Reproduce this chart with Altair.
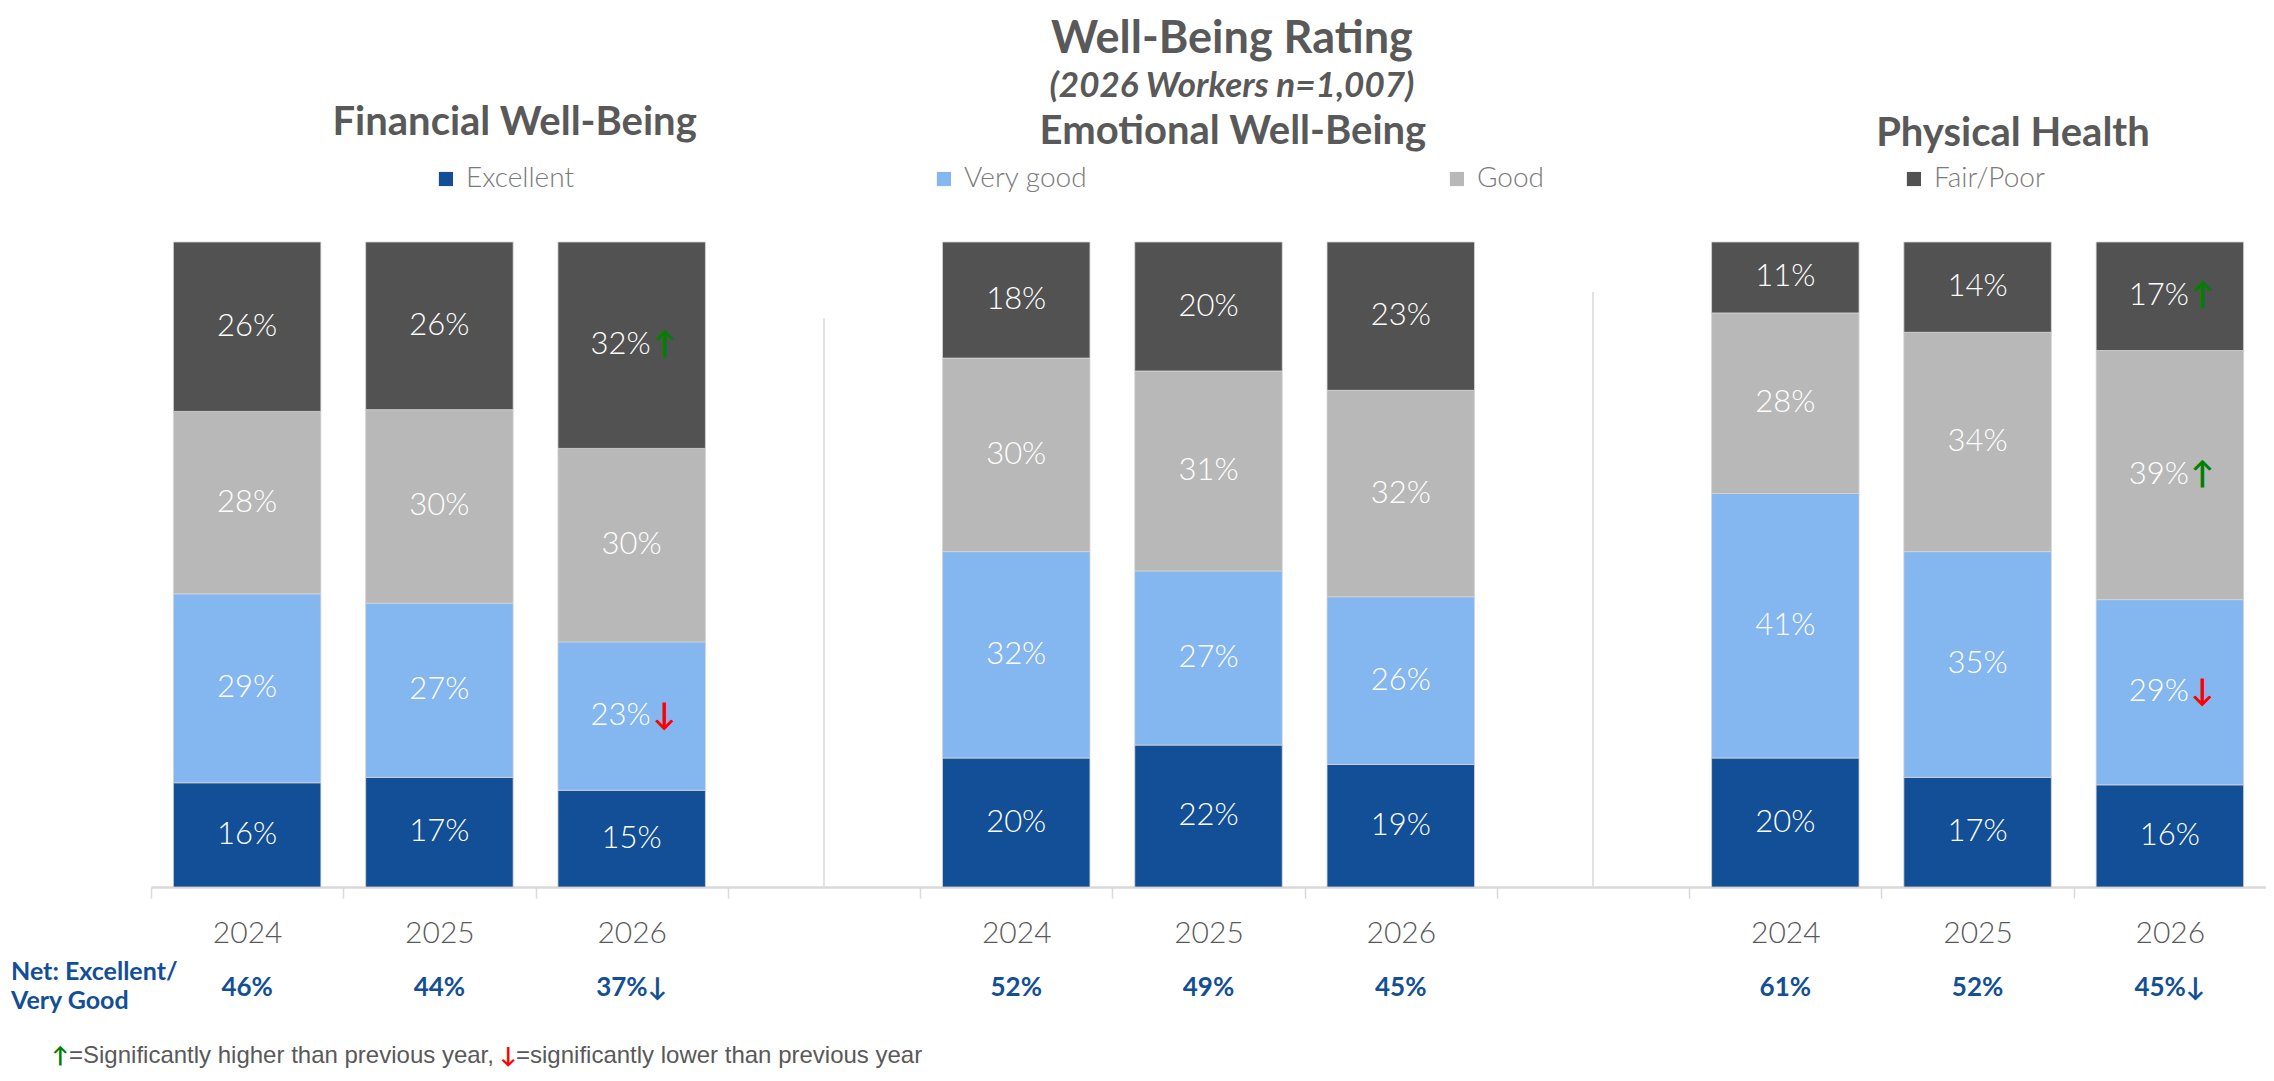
import altair as alt
import pandas as pd

# ---------------- data ----------------
years = ["2024", "2025", "2026"]
panels = ["Financial Well-Being", "Emotional Well-Being", "Physical Health"]
panel_keys = ["F", "E", "P"]
categories = ["Excellent", "Very good", "Good", "Fair/Poor"]
colors = ["#124f96", "#84b6ef", "#b8b8b8", "#525252"]

# order: Financial 2024-2026, Emotional 2024-2026, Physical 2024-2026
excellent = [16, 17, 15, 20, 22, 19, 20, 17, 16]
very_good = [29, 27, 23, 32, 27, 26, 41, 35, 29]
good = [28, 30, 30, 30, 31, 32, 28, 34, 39]
fair_poor = [26, 26, 32, 18, 20, 23, 11, 14, 17]

sig_excellent = ["", "", "", "", "", "", "", "", ""]
sig_very_good = ["", "", "down", "", "", "", "", "", "down"]
sig_good = ["", "", "", "", "", "", "", "", "up"]
sig_fair_poor = ["", "", "up", "", "", "", "", "", "up"]

net_values = [46, 44, 37, 52, 49, 45, 61, 52, 45]
net_sig = ["", "", "down", "", "", "", "", "", "down"]

title_text = "Well-Being Rating"
subtitle_text = "(2026 Workers n=1,007)"
net_label_1 = "Net: Excellent/"
net_label_2 = "Very Good"
foot_1 = "=Significantly higher than previous year, "
foot_2 = "=significantly lower than previous year"

# ---------------- build tables ----------------
slots = []
for k, key in enumerate(panel_keys):
    for y in years:
        slots.append(f"{key}|{y}")
    if k < 2:
        slots.append(f"gap{k + 1}")

series = [excellent, very_good, good, fair_poor]
sigs = [sig_excellent, sig_very_good, sig_good, sig_fair_poor]
rows = []
for i in range(9):
    slot = f"{panel_keys[i // 3]}|{years[i % 3]}"
    for c, cat in enumerate(categories):
        rows.append({
            "slot": slot,
            "cat": cat,
            "rank": c,
            "val": series[c][i],
            "label": f"{series[c][i]}%",
            "sig": sigs[c][i],
        })
df = pd.DataFrame(rows)

net_rows = []
for i in range(9):
    arrow = "\u2193" if net_sig[i] == "down" else ("\u2191" if net_sig[i] == "up" else "")
    net_rows.append({"slot": f"{panel_keys[i // 3]}|{years[i % 3]}",
                     "text": f"{net_values[i]}%{arrow}"})
net_df = pd.DataFrame(net_rows)

# ---------------- layout ----------------
W, H = 2115, 645
PAD = {"left": 143, "top": 234, "right": 0, "bottom": 181}
step = W / 11.0


def px(ref_x):
    return (ref_x - 153) * step / 193.0


GRAY = "#595959"
BLUE = "#134f97"

xscale = alt.Scale(domain=slots, paddingInner=0.233, paddingOuter=0.1165)
yscale = alt.Scale(domain=[0, 1], nice=False, zero=True)

x_enc = alt.X(
    "slot:N",
    scale=xscale,
    title=None,
    axis=alt.Axis(
        labelExpr="indexof(datum.value, '|') > 0 ? split(datum.value, '|')[1] : ''",
        labelAngle=0,
        labelFont="Lato",
        labelFontSize=30,
        labelFontWeight=300,
        labelColor=GRAY,
        labelPadding=20,
        domainColor="#d9d9d9",
        domainWidth=2.5,
        tickColor="#d9d9d9",
        tickWidth=1.5,
        tickSize=11,
        tickOffset=-step / 2,
        labelOffset=step / 2,
        grid=False,
    ),
)
x_plain = alt.X("slot:N", scale=xscale)

base = alt.Chart(df).transform_stack(
    stack="val",
    groupby=["slot"],
    as_=["y0", "y1"],
    offset="normalize",
    sort=[alt.SortField("rank", order="ascending")],
).transform_calculate(mid="(datum.y0 + datum.y1) / 2")

bars = base.mark_bar(stroke="#d4d4d4", strokeWidth=0.8).encode(
    x=x_enc,
    y=alt.Y("y0:Q", scale=yscale, axis=None),
    y2="y1:Q",
    color=alt.Color(
        "cat:N",
        scale=alt.Scale(domain=categories, range=colors),
        legend=alt.Legend(
            title=None,
            orient="none",
            legendX=px(435),
            legendY=-77,
            direction="horizontal",
            columnPadding=355,
            symbolType="square",
            symbolSize=200,
            symbolStrokeWidth=0,
            labelFont="Lato",
            labelFontSize=28,
            labelFontWeight=300,
            labelColor="#7a7a7a",
            labelOffset=6,
        ),
    ),
)

lbl_style = dict(font="Lato", fontSize=31, fontWeight=300, color="white", baseline="middle")
y_mid = alt.Y("mid:Q", scale=yscale, axis=None)

labels_plain = base.transform_filter("datum.sig == ''").mark_text(**lbl_style).encode(
    x=x_plain, y=y_mid, text="label:N"
)
labels_sig = base.transform_filter("datum.sig != ''").mark_text(
    align="right", dx=19, **lbl_style
).encode(x=x_plain, y=y_mid, text="label:N")

arrow_style = dict(font="Lato", fontSize=31, fontWeight="bold", baseline="middle", align="left", dx=21)
arrows_up = base.transform_filter("datum.sig == 'up'").mark_text(color="#008000", text="\u2191", **arrow_style).encode(
    x=x_plain, y=y_mid
)
arrows_down = base.transform_filter("datum.sig == 'down'").mark_text(color="#ff0000", text="\u2193", **arrow_style).encode(
    x=x_plain, y=y_mid
)

# dividers between panels
dividers = []
for gap, top in [("gap1", H - 569), ("gap2", H - 595)]:
    dividers.append(
        alt.Chart(pd.DataFrame({"slot": [gap]})).mark_rule(color="#e2e2e2", strokeWidth=2).encode(
            x=x_plain, y=alt.value(top), y2=alt.value(H)
        )
    )

# net row
net = alt.Chart(net_df).mark_text(
    font="Lato", fontSize=26, fontWeight="bold", color=BLUE, baseline="middle"
).encode(x=x_plain, y=alt.value(H + 101), text="text:N")


def text_layer(txt, x, y, **kw):
    return alt.Chart(pd.DataFrame({"t": [txt]})).mark_text(**kw).encode(
        x=alt.value(x), y=alt.value(y), text="t:N"
    )


annots = [
    text_layer(title_text, px(1238), -189, font="Lato", fontSize=45, fontWeight="bold",
               color=GRAY, align="center", baseline="alphabetic"),
    text_layer(subtitle_text, px(1238), -145, font="Lato", fontSize=35, fontWeight="bold",
               fontStyle="italic", color=GRAY, align="center", baseline="alphabetic"),
    text_layer(panels[0], px(518), -107, font="Lato", fontSize=40, fontWeight="bold",
               color=GRAY, align="center", baseline="alphabetic"),
    text_layer(panels[1], px(1239), -98, font="Lato", fontSize=40, fontWeight="bold",
               color=GRAY, align="center", baseline="alphabetic"),
    text_layer(panels[2], px(2022), -96, font="Lato", fontSize=40, fontWeight="bold",
               color=GRAY, align="center", baseline="alphabetic"),
    text_layer(net_label_1, 11 - 151, H + 93, font="Lato", fontSize=25, fontWeight="bold",
               color=BLUE, align="left", baseline="alphabetic"),
    text_layer(net_label_2, 11 - 151, H + 122, font="Lato", fontSize=25, fontWeight="bold",
               color=BLUE, align="left", baseline="alphabetic"),
    text_layer("\u2191", 52 - 151, H + 176, font="Lato", fontSize=22, fontWeight="bold",
               color="#008000", align="left", baseline="alphabetic"),
    text_layer(foot_1, 69 - 151, H + 176, font="Liberation Sans", fontSize=24,
               color=GRAY, align="left", baseline="alphabetic"),
    text_layer("\u2193", 500 - 151, H + 176, font="Lato", fontSize=22, fontWeight="bold",
               color="#ff0000", align="left", baseline="alphabetic"),
    text_layer(foot_2, 516 - 151, H + 176, font="Liberation Sans", fontSize=24,
               color=GRAY, align="left", baseline="alphabetic"),
]

chart = alt.layer(
    bars, *dividers, labels_plain, labels_sig, arrows_up, arrows_down, net, *annots
).properties(
    width=W,
    height=H,
    autosize=alt.AutoSizeParams(type="none"),
    padding=PAD,
    background="white",
).configure_view(strokeWidth=0)

chart.save("out.html", embed_options={"renderer": "svg", "actions": False})
